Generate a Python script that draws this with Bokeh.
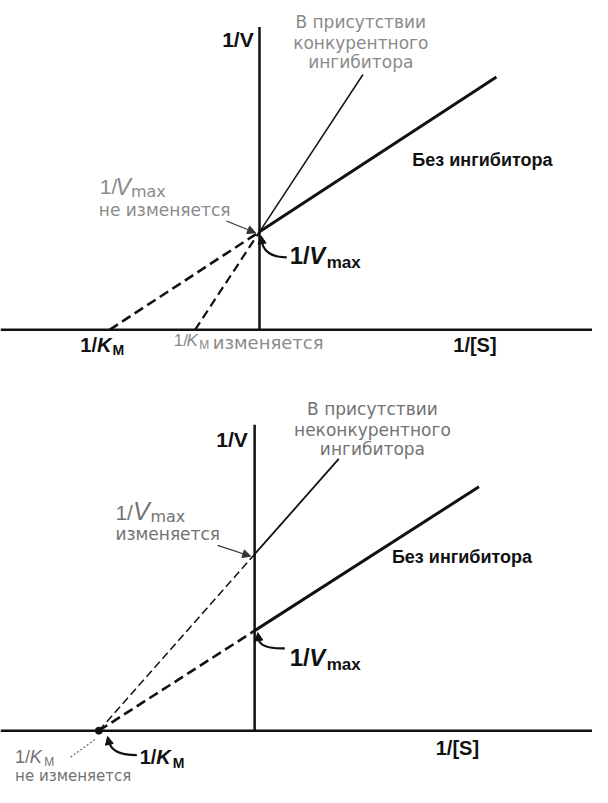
from bokeh.plotting import figure
from bokeh.layouts import column
from bokeh.models import Label, Arrow, NormalHead, Span
from bokeh.embed import file_html
from bokeh.resources import INLINE

# ---------------- data (Lineweaver-Burk, arbitrary units) ----------------
# top panel: competitive inhibitor  [uninhibited, inhibited]
comp_inv_km = [1.0, 0.43]      # 1/Km  (line meets x axis at -1/Km)
comp_inv_vmax = [1.0, 1.0]     # 1/Vmax (line meets y axis here)
comp_x_end = [1.58, 0.69]      # last 1/[S] value drawn
comp_axis_top = 3.09

# bottom panel: noncompetitive inhibitor  [uninhibited, inhibited]
nonc_inv_km = [1.0, 1.0]
nonc_inv_vmax = [1.0, 1.765]
nonc_x_end = [1.44, 0.54]
nonc_axis_top = 3.06

# ---------------- layout ----------------
W = 592
TOP_H, BOT_H = 375, 412
REF_W, REF_H = 608.0, 803.0
KX, KY = W / REF_W, (TOP_H + BOT_H) / REF_H
INK = "#111111"


def lb(inv_km, inv_vmax, x):
    return inv_vmax * (1.0 + x / inv_km)


def make_fig(h, ox, oy, sx, sy, pic_y0):
    ry0 = pic_y0 / KY
    ry1 = (pic_y0 + h) / KY
    p = figure(width=W, height=h, output_backend="svg", toolbar_location=None,
               x_axis_type=None, y_axis_type=None,
               x_range=((0 - ox) / sx, (REF_W - ox) / sx),
               y_range=((oy - ry1) / sy, (oy - ry0) / sy),
               min_border=0)
    p.outline_line_color = None
    p.background_fill_color = "white"
    p.border_fill_color = "white"
    p.grid.visible = False

    def conv(X, Y):
        return (X - ox) / sx, (oy - Y) / sy
    return p, conv


def txt(p, conv, X, Y, s, size, color=INK, bold=False, italic=False,
        font="Liberation Sans", align="left"):
    x, y = conv(X, Y)
    style = "normal"
    if bold and italic:
        style = "bold italic"
    elif bold:
        style = "bold"
    elif italic:
        style = "italic"
    p.add_layout(Label(x=x, y=y, text=s, text_font=font,
                       text_font_size=f"{size}px", text_color=color,
                       text_font_style=style, text_align=align,
                       text_baseline="middle"))


def arrow(p, conv, X0, Y0, X1, Y1, width=1.2, color="#333333", size=8, show_line=True):
    x0, y0 = conv(X0, Y0)
    x1, y1 = conv(X1, Y1)
    p.add_layout(Arrow(end=NormalHead(size=size, fill_color=color, line_color=color, line_width=1),
                       x_start=x0, y_start=y0, x_end=x1, y_end=y1,
                       line_width=width, line_color=color,
                       line_alpha=1.0 if show_line else 0.0))


def curve(p, conv, X0, Y0, CX, CY, X1, Y1, width=2.2, color=INK):
    x0, y0 = conv(X0, Y0)
    cx, cy = conv(CX, CY)
    x1, y1 = conv(X1, Y1)
    p.quadratic(x0=[x0], y0=[y0], x1=[x1], y1=[y1], cx=[cx], cy=[cy],
                line_width=width, line_color=color)


def draw_lines(p, inv_km, inv_vmax, x_end, axis_top, solid_w, dash_w, dashes):
    p.add_layout(Span(location=0, dimension="width", line_width=2.5, line_color=INK))
    p.segment(x0=[0], y0=[0], x1=[0], y1=[axis_top], line_width=2.5, line_color=INK)
    for k, vm, xe, sw, dw, ds in zip(inv_km, inv_vmax, x_end, solid_w, dash_w, dashes):
        p.line([0, xe], [lb(k, vm, 0), lb(k, vm, xe)], line_width=sw, line_color=INK)
        p.line([-k, 0], [lb(k, vm, -k), lb(k, vm, 0)], line_width=dw,
               line_color=INK, line_dash=ds)


# ---------------- top panel ----------------
top, T = make_fig(TOP_H, 266, 336, 154, 100, 0)
draw_lines(top, comp_inv_km, comp_inv_vmax, comp_x_end, comp_axis_top,
           [3.0, 1.5], [2.6, 2.2], ["10 5", "9 5"])

G1 = "#8a8a8a"
txt(top, T, 260, 40, "1/V", 21, bold=True, align="right")
for Y, s in zip([22, 43, 63], ["В присутствии", "конкурентного", "ингибитора"]):
    txt(top, T, 370, Y, s, 17, G1, font="DejaVu Sans", align="center")
txt(top, T, 423, 163, "Без ингибитора", 18, bold=True)
# 1/Vmax не изменяется
txt(top, T, 102, 190, "1/", 21, G1)
txt(top, T, 118, 190, "V", 23, G1, italic=True)
txt(top, T, 134, 195, "max", 16, G1, font="DejaVu Sans")
txt(top, T, 101, 214, "не изменяется", 17, G1, font="DejaVu Sans")
arrow(top, T, 232, 225, 262, 237)
# 1/Vmax
txt(top, T, 297, 260, "1/", 24, bold=True)
txt(top, T, 317, 260, "V", 24, bold=True, italic=True)
txt(top, T, 335, 267, "max", 17, bold=True)
curve(top, T, 294, 262, 272, 262, 268.5, 247)
arrow(top, T, 268.7, 248, 267.6, 240, size=8, show_line=False, color=INK)
# 1/Km
txt(top, T, 82, 351, "1/", 20, bold=True)
txt(top, T, 99, 351, "K", 20, bold=True, italic=True)
txt(top, T, 115, 357, "M", 14, bold=True)
txt(top, T, 178, 347, "1/", 17, G1)
txt(top, T, 191, 347, "K", 17, G1, italic=True)
txt(top, T, 204, 352, "M", 12, G1)
txt(top, T, 218, 349, "изменяется", 18, G1, font="DejaVu Sans")
txt(top, T, 465, 352, "1/[S]", 20, bold=True)

# ---------------- bottom panel ----------------
bot, B = make_fig(BOT_H, 261, 745, 160, 102, TOP_H)
draw_lines(bot, nonc_inv_km, nonc_inv_vmax, nonc_x_end, nonc_axis_top,
           [3.0, 1.8], [2.6, 1.5], ["10 5", "8 4"])
kx = -nonc_inv_km[0]
bot.scatter([kx], [0], size=7, color=INK)

G2 = "#727272"
txt(bot, B, 254, 448, "1/V", 21, bold=True, align="right")
for Y, s in zip([417, 438, 458], ["В присутствии", "неконкурентного", "ингибитора"]):
    txt(bot, B, 382, Y, s, 17, G2, font="DejaVu Sans", align="center")
txt(bot, B, 402, 568, "Без ингибитора", 18, bold=True)
# 1/Vmax изменяется
txt(bot, B, 118, 522, "1/", 21, G2)
txt(bot, B, 136, 521, "V", 25, G2, italic=True)
txt(bot, B, 154, 527, "max", 16, G2, font="DejaVu Sans")
txt(bot, B, 118, 544, "изменяется", 17, G2, font="DejaVu Sans")
arrow(bot, B, 223, 556, 257, 567)
# 1/Vmax
txt(bot, B, 297, 670, "1/", 24, bold=True)
txt(bot, B, 317, 670, "V", 24, bold=True, italic=True)
txt(bot, B, 335, 677, "max", 17, bold=True)
curve(bot, B, 292, 661, 268, 662, 265, 652)
arrow(bot, B, 265.2, 652, 264.3, 645, size=8, show_line=False, color=INK)
# 1/Km
txt(bot, B, 143, 772, "1/", 20, bold=True)
txt(bot, B, 160, 772, "K", 20, bold=True, italic=True)
txt(bot, B, 177, 778, "M", 14, bold=True)
curve(bot, B, 140, 770, 116, 770, 112, 758)
arrow(bot, B, 111.6, 758, 110, 751, size=8, show_line=False, color=INK)
# 1/Km не изменяется
txt(bot, B, 15, 772, "1/", 18, G2)
txt(bot, B, 30, 772, "K", 18, G2, italic=True)
txt(bot, B, 45, 777, "M", 12, G2)
txt(bot, B, 15, 791, "не изменяется", 15, G2, font="DejaVu Sans")
x0, y0 = B(72, 772)
x1, y1 = B(97, 754)
bot.line([x0, x1], [y0, y1], line_width=1.3, line_color=G2, line_dash="2 2")
txt(bot, B, 447, 763, "1/[S]", 20, bold=True)

layout = column(top, bot)
open("out.html", "w").write(file_html(layout, INLINE))
